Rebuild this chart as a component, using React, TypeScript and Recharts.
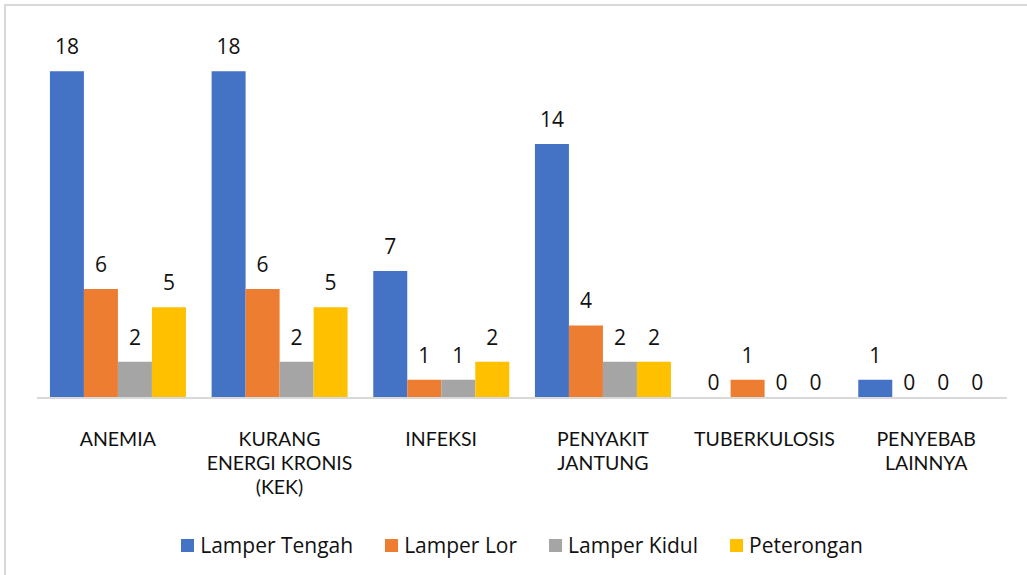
import { BarChart, Bar, XAxis, YAxis, LabelList, Legend, Rectangle } from "recharts";

const categories = [
  "ANEMIA",
  "KURANG ENERGI KRONIS (KEK)",
  "INFEKSI",
  "PENYAKIT JANTUNG",
  "TUBERKULOSIS",
  "PENYEBAB LAINNYA"
];
const tickLines: Record<string, string[]> = {
  "ANEMIA": ["ANEMIA"],
  "KURANG ENERGI KRONIS (KEK)": ["KURANG", "ENERGI KRONIS", "(KEK)"],
  "INFEKSI": ["INFEKSI"],
  "PENYAKIT JANTUNG": ["PENYAKIT", "JANTUNG"],
  "TUBERKULOSIS": ["TUBERKULOSIS"],
  "PENYEBAB LAINNYA": ["PENYEBAB", "LAINNYA"]
};
const lamperTengah = [18, 18, 7, 14, 0, 1];
const lamperLor = [6, 6, 1, 4, 1, 0];
const lamperKidul = [2, 2, 1, 2, 0, 0];
const peterongan = [5, 5, 2, 2, 0, 0];

const series = [
  { key: "lamperTengah", name: "Lamper Tengah", color: "#4472C4" },
  { key: "lamperLor", name: "Lamper Lor", color: "#ED7D31" },
  { key: "lamperKidul", name: "Lamper Kidul", color: "#A5A5A5" },
  { key: "peterongan", name: "Peterongan", color: "#FFC000" }
];

const data = categories.map((category, i) => ({
  category,
  lamperTengah: lamperTengah[i],
  lamperLor: lamperLor[i],
  lamperKidul: lamperKidul[i],
  peterongan: peterongan[i]
}));

const FONT = "'Open Sans', sans-serif";
const TICK_FONT = "Lato, sans-serif";
const TEXT = "#111";

function CategoryTick(props: any) {
  const { x, y, payload } = props;
  const lines = tickLines[payload.value] || [payload.value];
  return (
    <g>
      {lines.map((l, i) => (
        <text key={i} x={x} y={y + 40 + i * 24} textAnchor="middle" fill={TEXT} fontSize={19.5} fontFamily={TICK_FONT}>
          {l}
        </text>
      ))}
    </g>
  );
}

function ValueLabel(props: any) {
  const { x, y, width, height, value } = props;
  // excel drops the zero labels closer to the axis
  const ty = value === 0 ? Number(y) + Number(height) - 8 : Number(y) - 17;
  return (
    <text x={Number(x) + Number(width) / 2} y={ty} textAnchor="middle" fill={TEXT} fontSize={21} fontFamily={FONT}>
      {value}
    </text>
  );
}

// zero bars get a 1px stub so recharts keeps them (for the label), but draw nothing
function BarShape(props: any) {
  if (props.value === 0 || (Array.isArray(props.value) && props.value[1] === 0)) return <g />;
  return <Rectangle {...props} />;
}

function LegendContent() {
  return (
    <div style={{ display: "flex", justifyContent: "center", alignItems: "center", height: 60, fontFamily: FONT, fontSize: 21, color: TEXT }}>
      {series.map(s => (
        <div key={s.key} style={{ display: "flex", alignItems: "center", margin: "0 16px" }}>
          <span style={{ width: 13, height: 13, background: s.color, marginRight: 6, display: "inline-block" }} />
          <span>{s.name}</span>
        </div>
      ))}
    </div>
  );
}

export default function App() {
  return (
    <div style={{ position: "absolute", left: 0, top: 0, width: 1027, height: 575, overflow: "hidden", background: "#fff" }}>
      <div style={{ position: "absolute", left: 4, top: 4, width: 1200, height: 800, border: "2px solid #d9d9d9" }} />
      <div style={{ position: "absolute", left: 0, top: 0 }}>
        <BarChart
          width={1027}
          height={575}
          data={data}
          margin={{ top: 35, right: 20, left: 37, bottom: 0 }}
          barGap={0}
          barCategoryGap="8%"
        >
          <XAxis
            dataKey="category"
            tick={<CategoryTick />}
            tickLine={false}
            axisLine={{ stroke: "#d9d9d9", strokeWidth: 2 }}
            interval={0}
            height={117}
          />
          <YAxis hide domain={[0, 20]} />
          <Legend verticalAlign="bottom" content={<LegendContent />} />
          {series.map(s => (
            <Bar
              key={s.key}
              dataKey={s.key}
              name={s.name}
              fill={s.color}
              isAnimationActive={false}
              minPointSize={(v: any) => (v === 0 ? 1 : 0)}
              shape={<BarShape />}
            >
              <LabelList dataKey={s.key} content={<ValueLabel />} />
            </Bar>
          ))}
        </BarChart>
      </div>
    </div>
  );
}
